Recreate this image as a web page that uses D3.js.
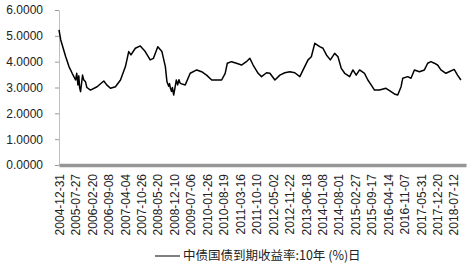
<!DOCTYPE html>
<html>
<head>
<meta charset="utf-8">
<script src="https://cdn.jsdelivr.net/npm/d3@7"></script>
<style>
  body { margin: 0; background: #fff; }
  #chart { width: 472px; height: 270px; }
</style>
</head>
<body>
<div id="chart"></div>
<script>
// 中债国债到期收益率:10年
const dates = [
  "2004-12-31","2005-01-22","2005-03-25","2005-05-05","2005-06-14","2005-07-27","2005-08-10","2005-08-25","2005-09-05",
  "2005-09-15","2005-09-27","2005-10-22","2005-11-05","2005-11-28","2005-12-15",
  "2006-01-29","2006-04-22","2006-07-15","2006-08-21","2006-10-06","2006-12-08","2007-02-09","2007-04-12","2007-05-23",
  "2007-06-20","2007-08-14","2007-10-15","2007-12-16","2008-02-16","2008-03-28","2008-05-21","2008-07-12","2008-08-24",
  "2008-09-13","2008-10-05","2008-10-15","2008-10-26","2008-11-10","2008-11-20","2008-12-06","2008-12-20","2009-01-08",
  "2009-01-25","2009-02-10","2009-02-26","2009-04-30","2009-07-01","2009-09-21","2009-11-21",
  "2010-01-22","2010-03-27","2010-05-29","2010-07-30","2010-09-12","2010-10-09","2010-12-01","2011-02-01","2011-04-04",
  "2011-06-05","2011-07-18","2011-08-28","2011-10-30","2011-12-11","2012-02-12","2012-03-25","2012-05-27","2012-07-28",
  "2012-09-28","2012-11-30","2013-01-31","2013-04-04","2013-05-15","2013-07-16","2013-08-26","2013-10-08","2013-12-09",
  "2014-01-19","2014-03-03","2014-04-21","2014-06-14","2014-07-26","2014-09-05","2014-10-18","2014-12-19","2015-01-29",
  "2015-03-11","2015-04-22","2015-06-23","2015-08-04","2015-09-14","2015-10-26","2015-12-27","2016-03-18","2016-05-20",
  "2016-07-01","2016-08-12","2016-09-23","2016-10-14","2016-12-15","2017-01-25","2017-03-09","2017-05-11","2017-07-12",
  "2017-08-22","2017-10-02","2017-11-13","2017-12-24","2018-02-04","2018-04-07","2018-05-18","2018-07-20","2018-08-31",
  "2018-10-12"
];
const yields = [
  5.23, 4.84, 4.19, 3.81, 3.55, 3.29, 3.55, 3.10, 3.45,
  3.00, 2.84, 3.48, 3.30, 3.22, 3.00,
  2.90, 3.03, 3.25, 3.10, 2.97, 3.03, 3.29, 3.81, 4.39,
  4.26, 4.52, 4.61, 4.39, 4.07, 4.13, 4.58, 4.39, 3.81,
  3.22, 3.05, 3.15, 2.97, 2.85, 3.00, 2.71, 2.95, 3.29,
  3.10, 3.30, 3.16, 3.10, 3.55, 3.68, 3.61,
  3.48, 3.29, 3.29, 3.29, 3.55, 3.94, 4.00, 3.94, 3.87,
  4.00, 4.13, 3.87, 3.55, 3.42, 3.57, 3.55, 3.29, 3.48,
  3.57, 3.61, 3.57, 3.42, 3.68, 4.07, 4.19, 4.71, 4.58,
  4.52, 4.26, 4.07, 4.32, 4.19, 3.74, 3.55, 3.42, 3.68,
  3.48, 3.68, 3.55, 3.29, 3.10, 2.90, 2.90, 2.97, 2.84,
  2.75, 2.71, 3.03, 3.36, 3.42, 3.36, 3.68, 3.61, 3.68,
  3.94, 4.00, 3.94, 3.87, 3.68, 3.55, 3.61, 3.70, 3.48,
  3.29
];
const tickDates = [
  "2004-12-31","2005-07-27","2006-02-20","2006-09-08","2007-04-04","2007-10-26","2008-05-20","2008-12-10",
  "2009-07-06","2010-01-26","2010-08-19","2011-03-16","2011-10-10","2012-05-02","2012-11-22","2013-06-18",
  "2014-01-08","2014-08-01","2015-02-27","2015-09-17","2016-04-14","2016-11-07","2017-05-31","2017-12-20",
  "2018-07-12"
];
const yTicks = [0, 1, 2, 3, 4, 5, 6];
const seriesName = "中债国债到期收益率:10年 (%)日";

const width = 472, height = 270;
const margin = { top: 10, right: 6, bottom: 105, left: 59 };
const innerWidth = width - margin.left - margin.right;
const innerHeight = height - margin.top - margin.bottom;

const parse = d3.timeParse("%Y-%m-%d");
const data = dates.map((d, i) => ({ date: parse(d), value: yields[i] }));

const svg = d3.select("#chart")
    .append("svg")
    .attr("width", width)
    .attr("height", height);

const g = svg.append("g")
    .attr("transform", `translate(${margin.left},${margin.top})`);

const xScale = d3.scaleTime()
    .domain([parse("2004-12-31"), parse("2018-12-15")])
    .range([0, innerWidth]);

const yScale = d3.scaleLinear()
    .domain([0, 6])
    .range([innerHeight, 0]);

// y axis
const yAxis = d3.axisLeft(yScale)
    .tickValues(yTicks)
    .tickFormat(d3.format(".4f"))
    .tickSize(4)
    .tickPadding(12)
    .tickSizeOuter(0);

const yG = g.append("g").call(yAxis);
yG.select(".domain").attr("stroke", "#bfbfbf");
yG.selectAll(".tick line").attr("stroke", "#999");
yG.selectAll(".tick text")
    .style("font-family", "'Liberation Sans', Arial, sans-serif")
    .style("font-size", "12px")
    .attr("fill", "#222");

// x axis: thick gray band at zero
const xAxis = d3.axisBottom(xScale)
    .tickValues(tickDates.map(parse))
    .tickFormat(d3.timeFormat("%Y-%m-%d"))
    .tickSize(0)
    .tickSizeOuter(0);

const xG = g.append("g")
    .attr("transform", `translate(0,${innerHeight})`)
    .call(xAxis);
xG.select(".domain").attr("stroke", "#969696").attr("stroke-width", 3.5);
xG.selectAll(".tick text")
    .attr("transform", "rotate(-90)")
    .attr("x", -9)
    .attr("y", 0)
    .attr("dy", "0.35em")
    .style("text-anchor", "end")
    .style("font-family", "'Liberation Sans', Arial, sans-serif")
    .style("font-size", "12px")
    .attr("fill", "#222");

// the line
const line = d3.line()
    .x(d => xScale(d.date))
    .y(d => yScale(d.value));

g.append("path")
    .datum(data)
    .attr("d", line)
    .attr("fill", "none")
    .attr("stroke", "#000")
    .attr("stroke-width", 1.5)
    .attr("stroke-linejoin", "round");

// legend
const legend = svg.append("g")
    .attr("transform", "translate(155,256)");

legend.append("line")
    .attr("x1", 0)
    .attr("x2", 25)
    .attr("y1", 0)
    .attr("y2", 0)
    .attr("stroke", "#000")
    .attr("stroke-width", 1);

legend.append("text")
    .attr("x", 28)
    .attr("y", 0)
    .attr("dy", "0.35em")
    .style("font-family", "'Noto Sans CJK SC', sans-serif")
    .style("font-size", "12.5px")
    .attr("fill", "#222")
    .text(seriesName);
</script>
</body>
</html>
